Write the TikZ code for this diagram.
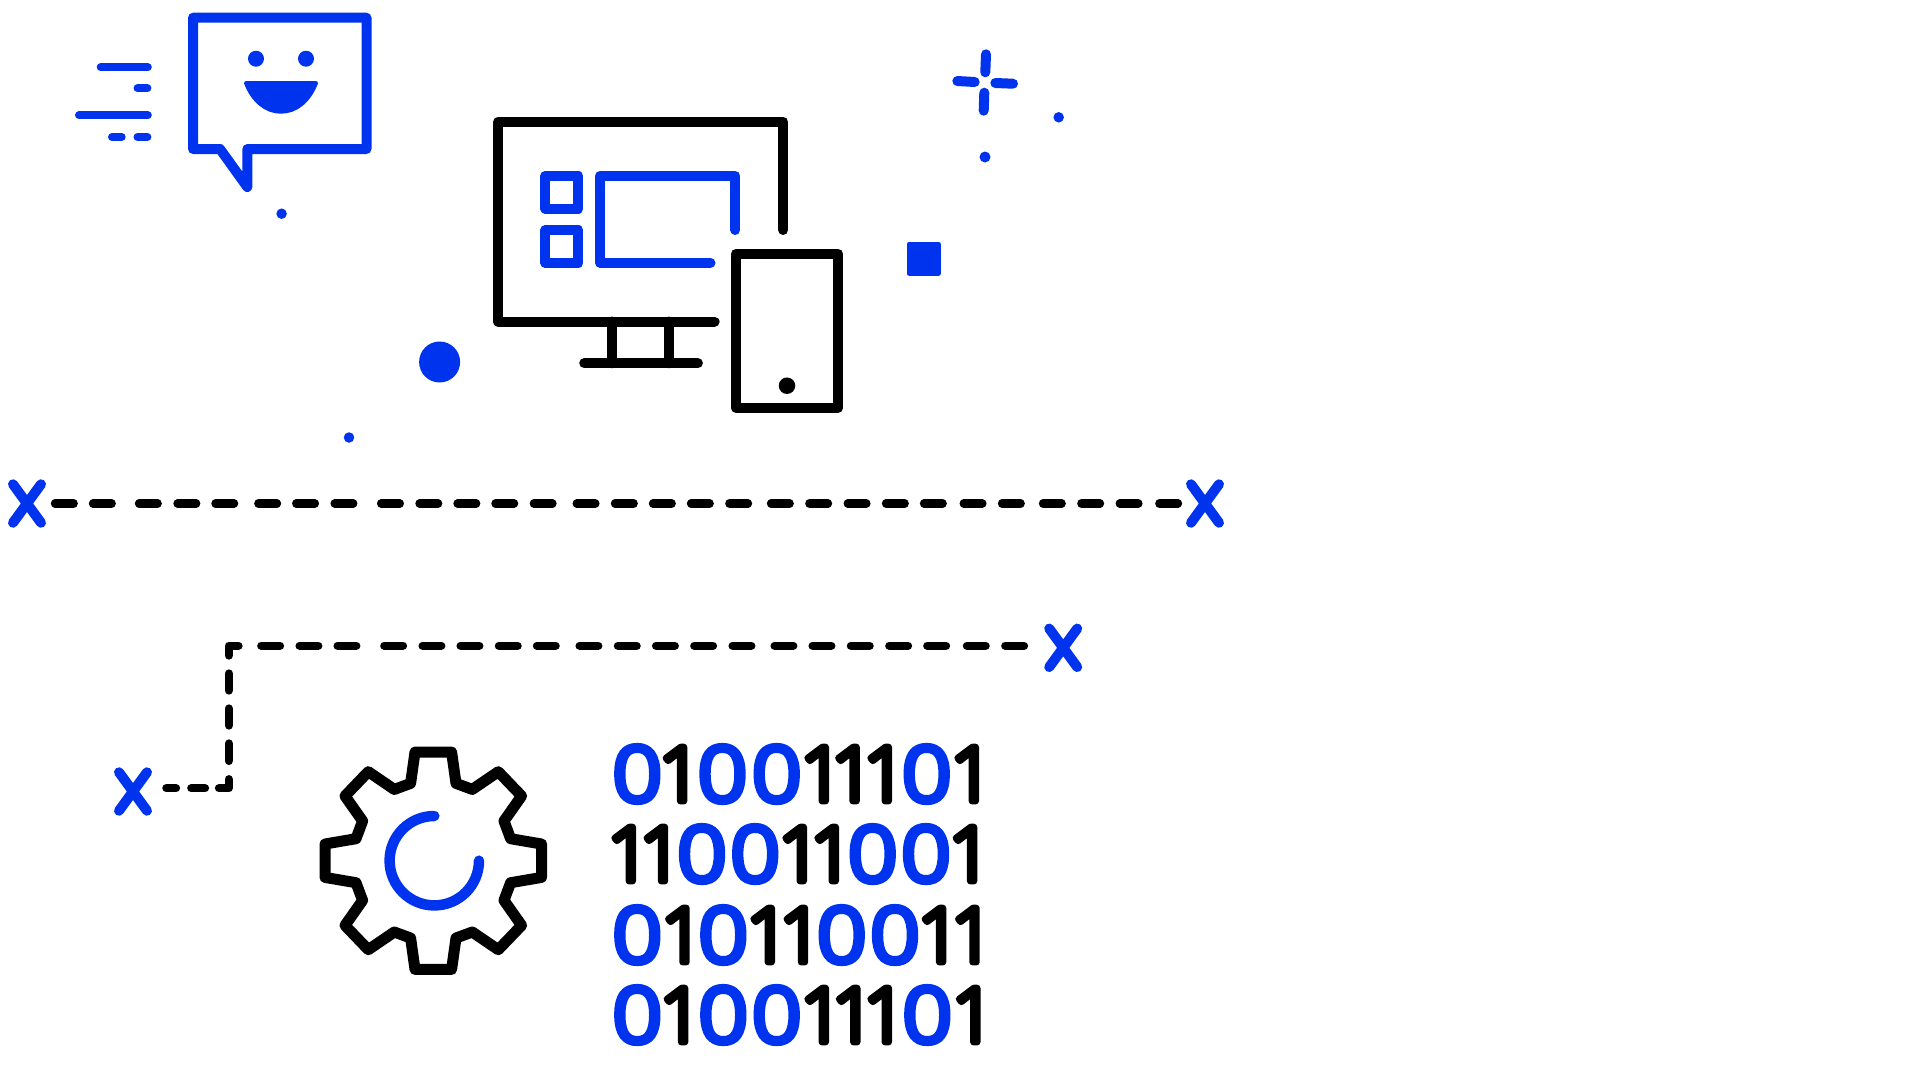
\documentclass[tikz,border=0pt]{standalone}
\usepackage{fontspec}
\usepackage{tikz}
\usetikzlibrary{shapes.misc}
\definecolor{iconblue}{HTML}{0033EE}
\newfontfamily\bitfont{Open Sans}[UprightFont=* Light,FakeBold=9,FakeStretch=1.0]
\newfontfamily\zerofont{Open Sans}[UprightFont=* Light,FakeBold=9,FakeStretch=1.14]

\begin{document}
\begin{tikzpicture}[x=1pt,y=-1pt,line cap=round,line join=round,
                    icon line/.style={draw=black,line width=10pt},
                    blue line/.style={draw=iconblue,line width=10pt},
                    dash line/.style={draw=black,line width=8.3pt},
                    blue dot/.style={circle,fill=iconblue,inner sep=0pt,outer sep=0pt},
                    cross node/.style={cross out,draw=iconblue,line width=10pt,inner sep=0pt,outer sep=0pt,
                                       minimum width=28pt,minimum height=38.5pt},
                    bit 0/.style={anchor=base,inner sep=0pt,text=iconblue,font=\zerofont\fontsize{75.5}{76}\selectfont},
                    bit 1/.style={anchor=base,inner sep=0pt,xshift=4pt,text=black,font=\bitfont\fontsize{75.5}{76}\selectfont},
                    first dashes/.style={dash pattern=on 18.7pt off 19.3pt on 18.7pt off 27.3pt on 18.7pt off 19.8pt
                      on 18.7pt off 19.2pt on 18.7pt off 24.2pt on 18.7pt off 19.2pt on 18.7pt off 19.7pt
                      on 18.7pt off 27.8pt on 18.7pt off 19.7pt on 18.7pt off 19.3pt on 18.7pt off 19.2pt
                      on 18.7pt off 19.7pt on 18.7pt off 24.2pt on 18.7pt off 19.6pt on 18.7pt off 19.3pt
                      on 18.7pt off 19.3pt on 18.7pt off 19.6pt on 18.7pt off 23pt on 18.7pt off 19.6pt
                      on 18.7pt off 19.7pt on 18.7pt off 19.6pt on 18.7pt off 19.3pt on 18.7pt off 21pt
                      on 18.7pt off 19.6pt on 18.7pt off 22.3pt on 18.7pt off 19.6pt on 18.7pt off 19.7pt
                      on 18.7pt off 20.9pt on 18.7pt off 30pt},
                    second dashes/.style={dash pattern=on 9.6pt off 15.3pt on 13.7pt off 14pt on 18.9pt off 18.3pt
                      on 17.4pt off 18pt on 17pt off 18pt on 17pt off 18pt on 19.5pt off 22.8pt
                      on 18.7pt off 19.6pt on 18.7pt off 19.3pt on 18.7pt off 28pt on 18.7pt off 19.6pt
                      on 18.7pt off 19.3pt on 18.7pt off 19.6pt on 18.7pt off 19.3pt on 18.7pt off 24pt
                      on 18.7pt off 19.6pt on 18.7pt off 19.5pt on 18.7pt off 19.5pt on 18.7pt off 19.6pt
                      on 18.7pt off 23.3pt on 18.7pt off 19.3pt on 18.7pt off 19.6pt on 18.7pt off 19.7pt
                      on 18.7pt off 19.3pt on 18.7pt off 20.9pt on 18.7pt off 19.7pt on 18.7pt off 30pt}]

  \useasboundingbox (0,0) rectangle (1920,1080);

  \draw[blue line] (193,17.7) -- (366.5,17.7) -- (366.5,149) -- (247.3,149) -- (247.3,187) -- (220,149) -- (193,149) -- cycle;
  \node[blue dot,minimum size=16pt] (eyeleft) at (256,58.7) {};
  \node[blue dot,minimum size=16pt] (eyeright) at (306,58.7) {};
  \draw[iconblue,fill=iconblue,line width=4pt] (246,83) -- (316,83) .. controls (309,101) and (296,111.7) .. (281,111.7)
    .. controls (266,111.7) and (253,101) .. (246,83) -- cycle;

  \draw[iconblue,line width=8pt] (100.7,67.3) -- (147.8,67.3);
  \draw[iconblue,line width=8pt] (137.5,88.3) -- (147.4,88.3);
  \draw[iconblue,line width=8pt] (79,115.3) -- (147.8,115.3);
  \draw[iconblue,line width=8pt] (112,137) -- (121.7,137);
  \draw[iconblue,line width=8pt] (137.5,137) -- (147.4,137);

  \node[blue dot,minimum size=10.5pt] (dotbubble) at (281.6,213.7) {};
  \node[blue dot,minimum size=41pt] (dotbig) at (439.6,362) {};
  \node[blue dot,minimum size=10.5pt] (dotlow) at (349,437.5) {};
  \node[blue dot,minimum size=10.5pt] (dotright) at (1058.7,117.3) {};
  \node[blue dot,minimum size=11pt] (dotstar) at (985,157) {};
  \node[fill=iconblue,rounded corners=2pt,inner sep=0pt,minimum width=33.8pt,minimum height=33.8pt] (square) at (923.9,258.9) {};

  \draw[iconblue,line width=10pt] (986,54.3) -- (985.3,72.3);
  \draw[iconblue,line width=10pt] (984.3,92.7) -- (983.7,110.7);
  \draw[iconblue,line width=10pt] (957.3,81) -- (974.7,82);
  \draw[iconblue,line width=10pt] (995.3,83) -- (1013,83.7);

  \draw[icon line] (783.3,230) -- (783.3,121.7) -- (498.4,121.7) -- (498.4,321.5) -- (714.6,321.5);
  \draw[icon line] (612.2,321.5) -- (612.2,363.3);
  \draw[icon line] (669,321.5) -- (669,363.3);
  \draw[icon line] (584.2,363.3) -- (697.9,363.3);
  \draw[icon line] (735.7,253.7) rectangle (838.2,407.7);
  \node[circle,fill=black,inner sep=0pt,minimum size=16.5pt] (button) at (787,385.7) {};

  \draw[blue line] (545.3,175.8) rectangle (578.4,208.7);
  \draw[blue line] (545.3,230.2) rectangle (578.4,262.8);
  \draw[blue line] (735.3,230) -- (735.3,175.8) -- (600.2,175.8) -- (600.2,262.8) -- (710.5,262.8);

  \node[cross node] (xa) at (27,503.5) {};
  \node[cross node] (xb) at (1205,503.5) {};
  \node[cross node] (xc) at (133,791.5) {};
  \node[cross node] (xd) at (1063.2,647.8) {};
  \coordinate (bendlow) at (228.8,788.3);
  \coordinate (bendhigh) at (228.8,645.7);

  \draw[dash line,first dashes,shorten <=14pt,shorten >=13pt] (xa.east) -- (xb.west);
  \draw[dash line,second dashes,shorten <=19.4pt,shorten >=24.9pt] (xc.east |- bendlow) -- (bendlow) -- (bendhigh) -- (bendhigh -| xd.west);

  \begin{scope}[shift={(433.3,860.7)}]
    \draw[icon line,line width=11pt] (-18.3,-108.7) -- (18.3,-108.7) -- (22.7,-77.3) -- (39,-71.3) -- (65,-89) -- (88.3,-64.7) -- (70.7,-39.7)
      -- (77.3,-22) -- (108.3,-16.7) -- (108.3,16.7) -- (77.3,22) -- (70.7,39.7) -- (88.3,64.7) -- (65,89) -- (39,71.3)
      -- (22.7,77.3) -- (18.3,108.7) -- (-18.3,108.7) -- (-22.7,77.3) -- (-39,71.3) -- (-65,89) -- (-88.3,64.7)
      -- (-70.7,39.7) -- (-77.3,22) -- (-108.3,16.7) -- (-108.3,-16.7) -- (-77.3,-22) -- (-70.7,-39.7) -- (-88.3,-64.7)
      -- (-65,-89) -- (-39,-71.3) -- (-22.7,-77.3) -- cycle;
    \draw[blue line,line width=10.5pt] (1,-44.7) arc[start angle=270,end angle=0,radius=44.7];
  \end{scope}

  \foreach \posx/\bit [count=\i] in {637.3/0,676.3/1,722.5/0,776.7/0,818/1,848.8/1,881/1,926.7/0,968/1}
    \node[bit \bit] (rowa\i) at (\posx,801) {\bit};
  \foreach \posx/\bit [count=\i] in {625/1,657.2/1,702/0,755.2/0,796/1,828/1,872.7/0,926/0,966.3/1}
    \node[bit \bit] (rowb\i) at (\posx,881) {\bit};
  \foreach \posx/\bit [count=\i] in {637.3/0,678.7/1,723.3/0,764/1,797.2/1,841.7/0,895/0,935.3/1,968.7/1}
    \node[bit \bit] (rowc\i) at (\posx,962) {\bit};
  \foreach \posx/\bit [count=\i] in {637.3/0,677.3/1,723.3/0,776.7/0,818/1,849.5/1,881/1,927.3/0,969.5/1}
    \node[bit \bit] (rowd\i) at (\posx,1042) {\bit};
\end{tikzpicture}
\end{document}
